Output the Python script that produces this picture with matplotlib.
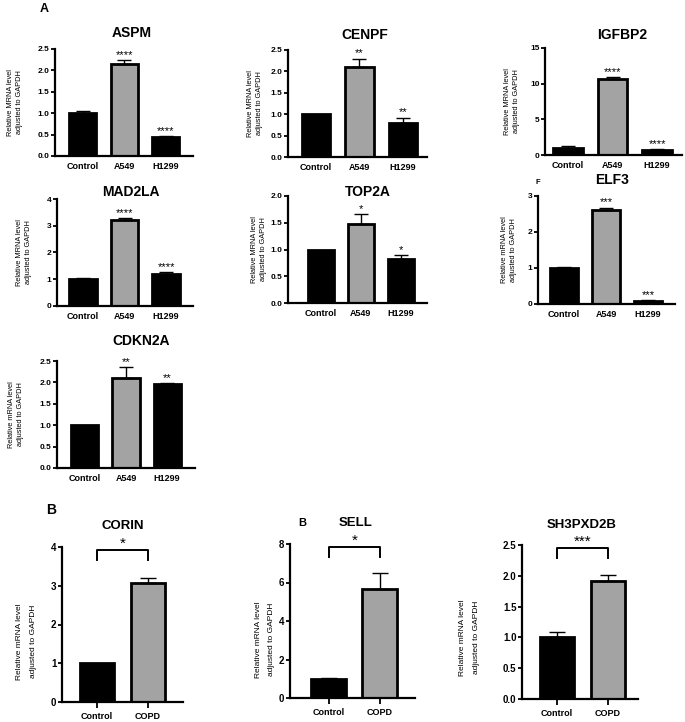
import matplotlib
matplotlib.use("Agg")
import matplotlib.pyplot as plt

plt.rcParams['font.family'] = ['Liberation Sans', 'DejaVu Sans']

W, H = 685, 722

# ---- data ----
cell_lines = ["Control", "A549", "H1299"]
copd_groups = ["Control", "COPD"]

aspm_mean = [1.00, 2.16, 0.44]
aspm_err = [0.06, 0.08, 0.03]
aspm_stars = ["", "****", "****"]

cenpf_mean = [1.00, 2.10, 0.80]
cenpf_err = [0.0, 0.20, 0.12]
cenpf_stars = ["", "**", "**"]

igfbp2_mean = [1.00, 10.6, 0.75]
igfbp2_err = [0.20, 0.30, 0.10]
igfbp2_stars = ["", "****", "****"]

mad2la_mean = [1.00, 3.22, 1.18]
mad2la_err = [0.06, 0.06, 0.08]
mad2la_stars = ["", "****", "****"]

top2a_mean = [1.00, 1.48, 0.83]
top2a_err = [0.0, 0.18, 0.07]
top2a_stars = ["", "*", "*"]

elf3_mean = [1.00, 2.62, 0.07]
elf3_err = [0.03, 0.06, 0.03]
elf3_stars = ["", "***", "***"]

cdkn2a_mean = [1.00, 2.10, 1.96]
cdkn2a_err = [0.0, 0.25, 0.02]
cdkn2a_stars = ["", "**", "**"]

corin_mean = [1.00, 3.07]
corin_err = [0.0, 0.13]
corin_star = "*"

sell_mean = [1.00, 5.65]
sell_err = [0.02, 0.82]
sell_star = "*"

sh3_mean = [1.00, 1.92]
sh3_err = [0.08, 0.09]
sh3_star = "***"

label_upper = "Relative MRNA level\nadjusted to GAPDH"
label_lower = "Relative mRNA level\nadjusted to GAPDH"

BAR_COLORS = ["black", "#a3a3a3", "black"]

fig = plt.figure(figsize=(W / 100, H / 100), dpi=100)


def make_axes(box):
    x0, x1, y0, y1 = box
    return fig.add_axes([x0 / W, 1 - y1 / H, (x1 - x0) / W, (y1 - y0) / H])


def fmt_ticks(ticks):
    if all(float(t).is_integer() for t in ticks):
        return [str(int(t)) for t in ticks]
    return ["%.1f" % t for t in ticks]


def draw_panel(gene, cats, means, errs, yticks, ylab, box, xlim, lab_x,
               title_xy, stars=None, bracket_star=None, lab_y=0.5):
    ax = make_axes(box)
    x = list(range(len(cats)))
    width = 0.66 if len(cats) == 3 else 0.68
    ax.bar(x, means, width, color=BAR_COLORS[:len(cats)], edgecolor="black",
           linewidth=2.0, zorder=2)
    for xi, m, e in zip(x, means, errs):
        if e > 0:
            ax.errorbar(xi, m, yerr=[[0], [e]], fmt="none", ecolor="black",
                        elinewidth=1.0, capsize=5 if len(cats) == 3 else 6,
                        capthick=1.0, zorder=3)
    ax.set_xlim(*xlim)
    ax.set_ylim(yticks[0], yticks[-1])
    ax.set_yticks(yticks)
    ax.set_yticklabels(fmt_ticks(yticks), fontweight="bold",
                       fontsize=6 if len(cats) == 3 else 7)
    ax.set_xticks(x)
    ax.set_xticklabels(cats, fontweight="bold", fontsize=6.5)
    for s in ["top", "right"]:
        ax.spines[s].set_visible(False)
    for s in ["left", "bottom"]:
        ax.spines[s].set_linewidth(1.6)
    ax.tick_params(axis="y", length=3, width=1.3, pad=1)
    if len(cats) == 3:
        ax.tick_params(axis="x", length=0, pad=4)
        ax.set_ylabel(ylab, fontsize=5.3, linespacing=1.45)
    else:
        ax.tick_params(axis="x", length=4, width=1.3, pad=3)
        ax.set_ylabel(ylab, fontsize=6, linespacing=2.3)
    axw = box[1] - box[0]
    ax.yaxis.set_label_coords((lab_x - box[0]) / axw, lab_y)

    if stars is not None:
        for xi, m, e, s in zip(x, means, errs, stars):
            if s:
                ax.annotate(s, (xi, m + e), xytext=(0, 1.5), textcoords="offset points",
                            ha="center", va="baseline", fontsize=8)
    if bracket_star is not None:
        top, legs = 0.98, 0.915
        tr = ax.get_xaxis_transform()
        ax.plot([x[0], x[0], x[1], x[1]], [legs, top, top, legs], transform=tr,
                color="black", lw=1.4, clip_on=False)
        ax.annotate(bracket_star, ((x[0] + x[1]) / 2, top), xycoords=tr,
                    xytext=(0, 2), textcoords="offset points",
                    ha="center", va="baseline", fontsize=11)

    fs = 10 if len(cats) == 3 else 9.5
    fig.text(title_xy[0] / W, 1 - title_xy[1] / H, gene, ha="center", va="center",
             fontsize=fs, fontweight="bold")
    return ax


# ---- section A ----
draw_panel("ASPM", cell_lines, aspm_mean, aspm_err, [0, 0.5, 1.0, 1.5, 2.0, 2.5],
           label_upper, (55, 193, 49, 156), (-0.67, 2.66), 23, (132, 33), stars=aspm_stars)
draw_panel("CENPF", cell_lines, cenpf_mean, cenpf_err, [0, 0.5, 1.0, 1.5, 2.0, 2.5],
           label_upper, (288, 427, 50, 157), (-0.64, 2.55), 263, (365, 35), stars=cenpf_stars)
draw_panel("IGFBP2", cell_lines, igfbp2_mean, igfbp2_err, [0, 5, 10, 15],
           label_upper, (545, 682, 48, 155), (-0.52, 2.56), 520, (622, 35), stars=igfbp2_stars)
draw_panel("MAD2LA", cell_lines, mad2la_mean, mad2la_err, [0, 1, 2, 3, 4],
           label_upper, (57, 193, 199, 306), (-0.63, 2.65), 32, (131, 192), stars=mad2la_stars)
draw_panel("TOP2A", cell_lines, top2a_mean, top2a_err, [0, 0.5, 1.0, 1.5, 2.0],
           label_upper, (288, 427, 196, 303), (-0.82, 2.65), 267, (368, 192), stars=top2a_stars)
draw_panel("ELF3", cell_lines, elf3_mean, elf3_err, [0, 1, 2, 3],
           label_lower, (538, 675, 196, 304), (-0.62, 2.64), 517, (612, 180), stars=elf3_stars)
draw_panel("CDKN2A", cell_lines, cdkn2a_mean, cdkn2a_err, [0, 0.5, 1.0, 1.5, 2.0, 2.5],
           label_lower, (57, 195, 361, 468), (-0.68, 2.68), 24, (141, 341), stars=cdkn2a_stars)

# ---- section B ----
draw_panel("CORIN", copd_groups, corin_mean, corin_err, [0, 1, 2, 3, 4],
           label_lower, (62, 183, 547, 702), (-0.69, 1.69), 37, (123, 526),
           bracket_star=corin_star, lab_y=0.39)
draw_panel("SELL", copd_groups, sell_mean, sell_err, [0, 2, 4, 6, 8],
           label_lower, (290, 415, 544, 698), (-0.76, 1.69), 275, (356, 523),
           bracket_star=sell_star, lab_y=0.38)
draw_panel("SH3PXD2B", copd_groups, sh3_mean, sh3_err, [0, 0.5, 1.0, 1.5, 2.0, 2.5],
           label_lower, (522, 638, 545, 699), (-0.69, 1.59), 480, (582, 525),
           bracket_star=sh3_star, lab_y=0.40)

# panel letters
fig.text(44 / W, 1 - 9 / H, "A", ha="center", va="center", fontsize=9, fontweight="bold")
fig.text(538 / W, 1 - 183 / H, "F", ha="center", va="center", fontsize=5.5, fontweight="bold")
fig.text(51 / W, 1 - 510 / H, "B", ha="center", va="center", fontsize=10, fontweight="bold")
fig.text(302 / W, 1 - 523 / H, "B", ha="center", va="center", fontsize=8, fontweight="bold")

fig.savefig("out.png", dpi=100)
